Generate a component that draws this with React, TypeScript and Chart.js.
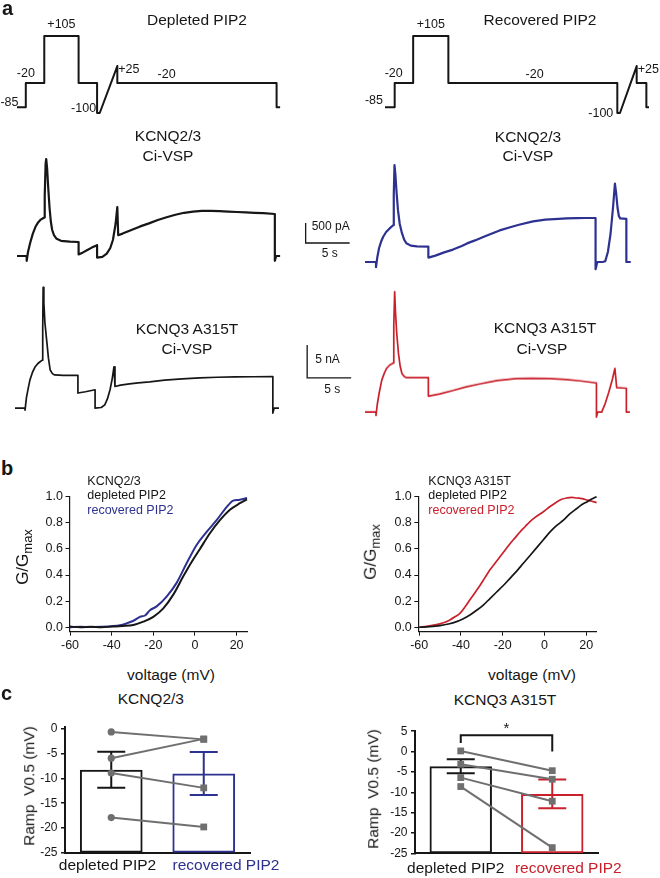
import React, { useEffect, useRef } from 'react';
import { Chart, registerables } from 'chart.js';

Chart.register(...registerables);

const FONT = "'Liberation Sans', Arial, Helvetica, sans-serif";
const INK = '#161616';
const BLUE = '#2d3190';
const RED = '#c9202b';
const GRAY = '#6f6f6f';

Chart.defaults.font.family = FONT;
Chart.defaults.color = INK;

// ---------------- panel a: voltage protocols (s, mV) ----------------
const protocolDepletedTime = [0, 1.0, 1.0, 3.1, 3.1, 7.0, 7.0, 9.1, 9.1, 9.4, 11.4, 11.4, 29.5, 29.5, 29.9];
const protocolDepletedVoltage = [-85, -85, -20, -20, 105, 105, -20, -20, -100, -100, 25, -20, -20, -85, -85];
const protocolRecoveredTime = [0, 1.1, 1.1, 3.2, 3.2, 7.2, 7.2, 26.4, 26.4, 26.7, 28.6, 28.6, 29.7, 29.7, 30.0];
const protocolRecoveredVoltage = [-85, -85, -20, -20, 105, 105, -20, -20, -100, -100, 25, -20, -20, -85, -85];

// ---------------- panel a: current traces ([s, pA] and [s, nA]) ----------------
const kcnq23DepletedTrace: [number, number][] = [
  [0, 0], [1.1, 0], [1.1, -120], [1.25, 100], [1.5, 330], [1.8, 560], [2.1, 730], [2.4, 840], [2.7, 910], [3.0, 950], [3.1, 960],
  [3.15, 1500], [3.25, 2300], [3.32, 2425], [3.42, 2200], [3.55, 1700], [3.7, 1200], [3.85, 850], [4.0, 650], [4.2, 520], [4.5, 430], [5.0, 380], [6.0, 360], [7.0, 350],
  [7.0, 40], [7.5, 90], [8.0, 150], [8.5, 210], [9.1, 270],
  [9.1, -40], [9.7, -20], [10.2, 60], [10.6, 200], [10.9, 400], [11.2, 800], [11.4, 1225], [11.45, 1225], [11.5, 520],
  [12, 560], [13, 650], [14, 740], [15, 815], [16, 900], [17, 970], [18, 1030], [19, 1080], [20, 1110], [21, 1130], [22, 1130],
  [23, 1120], [24, 1110], [25, 1100], [26, 1090], [27, 1080], [28, 1070], [29.3, 1050],
  [29.3, -120], [29.45, 0], [29.9, 0],
];
const kcnq23RecoveredTrace: [number, number][] = [
  [0, 0], [1.25, 0], [1.25, -130], [1.4, 120], [1.6, 350], [1.85, 520], [2.05, 625], [2.4, 750], [2.8, 840], [3.2, 920],
  [3.27, 1700], [3.35, 2420], [3.45, 2200], [3.6, 1700], [3.75, 1290], [3.95, 950], [4.2, 720], [4.45, 560], [4.7, 470], [5.2, 410], [5.9, 390], [7.2, 385],
  [7.2, 110], [8, 160], [9, 240], [10, 310], [11, 400], [11.6, 465], [12.5, 540], [13.5, 630], [14.5, 720], [15.3, 790],
  [16.5, 870], [17.5, 930], [19.1, 1015], [20.5, 1060], [22, 1080], [22.9, 1090], [24, 1095], [25, 1100], [26.2, 1100],
  [26.2, -180], [26.4, 0], [27.0, 0], [27.3, 20], [27.6, 250], [27.9, 700], [28.2, 1400], [28.4, 1960], [28.55, 1700],
  [28.7, 1350], [28.85, 1150], [29.0, 1090], [29.7, 1080], [29.7, 0], [30.2, 0],
];
const a315tDepletedTrace: [number, number][] = [
  [0, 0], [1.14, 0], [1.14, -0.3], [1.3, 1.6], [1.5, 3.0], [1.7, 4.3], [2.0, 5.5], [2.3, 6.3], [2.6, 6.8], [2.85, 7.06], [3.1, 7.3],
  [3.15, 12], [3.2, 18.4], [3.28, 16], [3.4, 13], [3.6, 10.3], [3.8, 7.6], [4.0, 5.8], [4.25, 5.25], [4.5, 5.05], [5.5, 5.0], [7.15, 5.0],
  [7.15, 2.3], [8, 2.5], [9.1, 2.8],
  [9.1, 0], [9.8, 0.1], [10.2, 0.5], [10.5, 1.4], [10.8, 2.8], [11.05, 4.5], [11.25, 6.3], [11.36, 3.3],
  [12, 3.5], [13, 3.7], [14, 3.85], [15.3, 4.0], [17, 4.25], [19, 4.45], [21, 4.6], [23, 4.7], [25, 4.75], [27, 4.78], [29.3, 4.8],
  [29.3, -0.75], [29.45, 0], [30, 0],
];
const a315tRecoveredTrace: [number, number][] = [
  [0, 0], [1.25, 0], [1.25, -0.5], [1.4, 1.2], [1.6, 2.8], [1.9, 4.8], [2.2, 5.9], [2.45, 6.6], [2.8, 7.1], [3.2, 7.4],
  [3.27, 13], [3.37, 18.2], [3.45, 15.5], [3.6, 12], [3.8, 8.9], [4.0, 6.9], [4.2, 5.8], [4.45, 5.4], [4.7, 5.2], [7.2, 5.2],
  [7.2, 2.4], [8.5, 2.75], [10, 3.25], [11.5, 3.8], [13, 4.25], [15, 4.75], [17.2, 5.05], [19, 5.1], [21, 5.05], [22.9, 4.9], [24.5, 4.7], [26.3, 4.4],
  [26.3, -0.75], [26.45, 0], [26.9, 0], [27.3, 1.3], [27.7, 3.0], [28.1, 4.9], [28.4, 6.6], [28.6, 3.7], [29.7, 3.6], [29.7, 0], [30.1, 0],
];

// ---------------- panel b: G/Gmax vs voltage ([mV, G/Gmax]) ----------------
const kcnq23DepletedGV: [number, number][] = [
  [-60, 0.005], [-55, 0.0], [-50, 0.003], [-45, 0.0], [-40, 0.005], [-35, 0.01], [-29.6, 0.018], [-24.8, 0.043], [-20, 0.08],
  [-15.2, 0.145], [-10.4, 0.25], [-5.6, 0.39], [-1.6, 0.5], [2.4, 0.6], [7.2, 0.72], [12, 0.82], [16.8, 0.9], [21.6, 0.95], [25, 0.98],
];
const kcnq23RecoveredGV: [number, number][] = [
  [-60, 0.0], [-55, 0.003], [-50, 0.002], [-45, 0.004], [-40, 0.008], [-36, 0.015], [-32.8, 0.03], [-29.5, 0.05], [-26.4, 0.08],
  [-24, 0.09], [-21.6, 0.13], [-18.4, 0.16], [-13.6, 0.235], [-8.8, 0.34], [-4, 0.49], [0.8, 0.63], [5.6, 0.73], [10.4, 0.82],
  [15.2, 0.92], [18.4, 0.97], [21, 0.975], [25, 0.99],
];
const a315tDepletedGV: [number, number][] = [
  [-60, 0], [-55, 0.005], [-50.1, 0.013], [-46, 0.025], [-42.1, 0.043], [-38.9, 0.066], [-35.7, 0.094], [-32.5, 0.13], [-29.3, 0.17],
  [-26.1, 0.22], [-22.9, 0.27], [-19.7, 0.32], [-16.5, 0.375], [-13.3, 0.43], [-10.1, 0.49], [-6.9, 0.55], [-3.7, 0.61], [-0.5, 0.67],
  [2.7, 0.73], [5.9, 0.78], [9.1, 0.82], [12.3, 0.87], [15.5, 0.91], [18, 0.94], [20.3, 0.96], [22.5, 0.98], [25, 1.0],
];
const a315tRecoveredGV: [number, number][] = [
  [-60, 0], [-55, 0.01], [-50.1, 0.026], [-47.7, 0.038], [-45.3, 0.056], [-42.9, 0.08], [-40.5, 0.107], [-38.1, 0.155], [-35.7, 0.21],
  [-33.3, 0.265], [-30.9, 0.32], [-28.5, 0.38], [-26.1, 0.44], [-23.7, 0.49], [-21.3, 0.54], [-18.9, 0.59], [-16.5, 0.64], [-14.1, 0.685],
  [-11.7, 0.73], [-9.3, 0.77], [-6.9, 0.81], [-3.7, 0.85], [-0.5, 0.885], [2.7, 0.925], [5.9, 0.96], [8.3, 0.98], [10.7, 0.99],
  [13, 0.995], [15.5, 0.99], [18, 0.985], [20.3, 0.975], [22.7, 0.965], [25, 0.955],
];
const gvXTicks = [-60, -40, -20, 0, 20];
const gvYTicks = [0, 0.2, 0.4, 0.6, 0.8, 1.0];

// ---------------- panel c: ramp V0.5 ----------------
const rampCategories = ['depleted PIP2', 'recovered PIP2'];
const kcnq23Means = [-8.25, -9.0];
const kcnq23Sems = [3.65, 4.35];
const kcnq23DepletedCells = [-0.6, -5.9, -8.9, -17.9];
const kcnq23RecoveredCells = [-2.1, -2.0, -11.9, -19.8];
const kcnq23YTicks = [-25, -20, -15, -10, -5, 0];
const a315tMeans = [-3.6, -10.4];
const a315tSems = [1.72, 3.55];
const a315tDepletedCells = [0.15, -3.1, -6.4, -8.6];
const a315tRecoveredCells = [-4.7, -6.8, -12.2, -23.6];
const a315tYTicks = [-25, -20, -15, -10, -5, 0, 5];
const a315tSignificance = { level: 4, leftEnd: 2.1, rightEnd: 0, mark: '*' };

type Pad = { left: number; top: number; right: number; bottom: number };
type Label = { text: string; x: number; y: number; dx: number; dy: number; align: CanvasTextAlign };

function ChartCanvas({ left, top, width, height, build }: { left: number; top: number; width: number; height: number; build: () => any }) {
  const ref = useRef<HTMLCanvasElement | null>(null);
  useEffect(() => {
    if (!ref.current) return;
    const chart = new Chart(ref.current, build());
    return () => chart.destroy();
  }, []);
  return <canvas ref={ref} width={width} height={height} style={{ position: 'absolute', left, top, width, height }} />;
}

function pointLabels(labels: Label[]) {
  return {
    id: 'pointLabels',
    afterDatasetsDraw(chart: any) {
      const { ctx, scales } = chart;
      ctx.save();
      ctx.font = `12.5px ${FONT}`;
      ctx.fillStyle = INK;
      ctx.textBaseline = 'middle';
      for (const l of labels) {
        ctx.textAlign = l.align;
        ctx.fillText(l.text, scales.x.getPixelForValue(l.x) + l.dx, scales.y.getPixelForValue(l.y) + l.dy);
      }
      ctx.restore();
    },
  };
}

function scaleBar(t0: number, v0: number, dt: number, dv: number, vLabel: string, hLabel: string, vdx: number, vdy: number, hdx: number, hdy: number) {
  return {
    id: 'scaleBar',
    afterDatasetsDraw(chart: any) {
      const { ctx, scales: { x, y } } = chart;
      const X0 = x.getPixelForValue(t0), X1 = x.getPixelForValue(t0 + dt);
      const Y0 = y.getPixelForValue(v0), Y1 = y.getPixelForValue(v0 + dv);
      ctx.save();
      ctx.strokeStyle = INK;
      ctx.lineWidth = 1.3;
      ctx.beginPath();
      ctx.moveTo(X0, Y1);
      ctx.lineTo(X0, Y0);
      ctx.lineTo(X1, Y0);
      ctx.stroke();
      ctx.font = `12px ${FONT}`;
      ctx.fillStyle = INK;
      ctx.textBaseline = 'middle';
      ctx.textAlign = 'left';
      ctx.fillText(vLabel, X0 + vdx, Y1 + vdy);
      ctx.textAlign = 'center';
      ctx.fillText(hLabel, (X0 + X1) / 2 + hdx, Y0 + hdy);
      ctx.restore();
    },
  };
}

function TraceChart(props: {
  areaLeft: number; areaTop: number; areaWidth: number; areaHeight: number; pad: Pad;
  xMax: number; yMin: number; yMax: number;
  series: { points: { x: number; y: number }[]; color: string; width: number }[];
  plugins?: any[];
}) {
  const { areaLeft, areaTop, areaWidth, areaHeight, pad, xMax, yMin, yMax, series, plugins = [] } = props;
  return (
    <ChartCanvas
      left={areaLeft - pad.left}
      top={areaTop - pad.top}
      width={areaWidth + pad.left + pad.right}
      height={areaHeight + pad.top + pad.bottom}
      build={() => ({
        type: 'line',
        data: {
          datasets: series.map((s) => ({
            data: s.points, borderColor: s.color, borderWidth: s.width, pointRadius: 0, tension: 0,
            clip: false, borderJoinStyle: 'round', borderCapStyle: 'butt',
          })),
        },
        options: {
          animation: false, responsive: false, events: [],
          layout: { padding: pad },
          plugins: { legend: { display: false }, tooltip: { enabled: false } },
          scales: {
            x: { type: 'linear', display: false, min: 0, max: xMax },
            y: { type: 'linear', display: false, min: yMin, max: yMax },
          },
        },
        plugins,
      })}
    />
  );
}

const zip = (a: number[], b: number[]) => a.map((x, i) => ({ x, y: b[i] }));
const pairs = (p: [number, number][]) => p.map(([x, y]) => ({ x, y }));

function GVChart({ left, yAxisWidth, padRight, xMin, series }: { left: number; yAxisWidth: number; padRight: number; xMin: number; series: { points: [number, number][]; color: string; width: number }[] }) {
  return (
    <ChartCanvas
      left={left} top={485} width={260} height={175}
      build={() => ({
        type: 'line',
        data: {
          datasets: series.map((s) => ({
            data: pairs(s.points), borderColor: s.color, borderWidth: s.width, pointRadius: 0,
            cubicInterpolationMode: 'monotone', clip: false,
          })),
        },
        options: {
          animation: false, responsive: false, events: [],
          layout: { padding: { left: 0, top: 11.7, right: padRight, bottom: 0 } },
          plugins: { legend: { display: false }, tooltip: { enabled: false } },
          scales: {
            x: {
              type: 'linear', min: xMin, max: 25,
              afterBuildTicks: (s: any) => { s.ticks = gvXTicks.map((v) => ({ value: v })); },
              ticks: { callback: (v: any) => String(v), font: { size: 12.5 }, color: INK, padding: 2, maxRotation: 0, autoSkip: false },
              grid: { drawOnChartArea: false, color: INK, tickLength: 4, lineWidth: 1 },
              border: { color: INK, width: 1.2 },
              afterFit: (s: any) => { s.height = 28.3; },
            },
            y: {
              type: 'linear', min: -0.034, max: 1.0,
              afterBuildTicks: (s: any) => { s.ticks = gvYTicks.map((v) => ({ value: v })); },
              ticks: { callback: (v: any) => Number(v).toFixed(1), font: { size: 12.5 }, color: INK, padding: 2.5, autoSkip: false },
              grid: { drawOnChartArea: false, color: INK, tickLength: 4, lineWidth: 1 },
              border: { color: INK, width: 1.2 },
              afterFit: (s: any) => { s.width = yAxisWidth; },
            },
          },
        },
      })}
    />
  );
}

function RampChart(props: {
  left: number; width: number; yAxisWidth: number; padTop: number; padRight: number; xAxisHeight: number;
  yMax: number; yTicks: number[]; means: number[]; sems: number[]; depleted: number[]; recovered: number[];
  barColors: string[]; barPercentage: number; depletedShape: string; bracket?: { level: number; leftEnd: number; rightEnd: number; mark: string };
}) {
  const { left, width, yAxisWidth, padTop, padRight, xAxisHeight, yMax, yTicks, means, sems, depleted, recovered, barColors, barPercentage, depletedShape, bracket } = props;
  const errorBars = {
    id: 'errorBars',
    afterDatasetDraw(chart: any, args: any) {
      if (args.index !== 0) return;
      const { ctx, scales: { y } } = chart;
      const meta = chart.getDatasetMeta(0);
      ctx.save();
      ctx.lineWidth = 2;
      meta.data.forEach((bar: any, i: number) => {
        const x = bar.x;
        const yt = y.getPixelForValue(means[i] + sems[i]);
        const yb = y.getPixelForValue(means[i] - sems[i]);
        ctx.strokeStyle = barColors[i];
        ctx.beginPath();
        ctx.moveTo(x, yt); ctx.lineTo(x, yb);
        ctx.moveTo(x - 14, yt); ctx.lineTo(x + 14, yt);
        ctx.moveTo(x - 14, yb); ctx.lineTo(x + 14, yb);
        ctx.stroke();
      });
      ctx.restore();
    },
    afterDatasetsDraw(chart: any) {
      if (!bracket) return;
      const { ctx, scales: { y } } = chart;
      const meta = chart.getDatasetMeta(0);
      const x0 = meta.data[0].x, x1 = meta.data[1].x;
      const yl = y.getPixelForValue(bracket.level);
      ctx.save();
      ctx.strokeStyle = INK;
      ctx.lineWidth = 2;
      ctx.beginPath();
      ctx.moveTo(x0, y.getPixelForValue(bracket.leftEnd));
      ctx.lineTo(x0, yl);
      ctx.lineTo(x1, yl);
      ctx.lineTo(x1, y.getPixelForValue(bracket.rightEnd));
      ctx.stroke();
      ctx.fillStyle = INK;
      ctx.font = `15px ${FONT}`;
      ctx.textAlign = 'center';
      ctx.textBaseline = 'middle';
      ctx.fillText(bracket.mark, (x0 + x1) / 2, yl - 6);
      ctx.restore();
    },
  };
  const cellSets = depleted.map((d, i) => ({
    type: 'line', data: [d, recovered[i]], borderColor: GRAY, borderWidth: 2,
    pointStyle: [depletedShape, 'rect'], pointRadius: [depletedShape === 'circle' ? 3.6 : 4.8, 4.8],
    pointBackgroundColor: GRAY, pointBorderColor: GRAY, pointBorderWidth: 0, order: 1, clip: false,
  }));
  return (
    <ChartCanvas
      left={left} top={712} width={width} height={166}
      build={() => ({
        type: 'bar',
        data: {
          labels: rampCategories,
          datasets: [
            {
              type: 'bar', data: means.map((m) => [-25, m]), backgroundColor: 'rgba(255,255,255,0)',
              borderColor: barColors, borderWidth: 2, borderSkipped: false,
              barPercentage, categoryPercentage: 1, order: 2,
            },
            ...cellSets,
          ],
        },
        options: {
          animation: false, responsive: false, events: [],
          layout: { padding: { left: 0, top: padTop, right: padRight, bottom: 0 } },
          plugins: { legend: { display: false }, tooltip: { enabled: false } },
          scales: {
            x: {
              type: 'category', offset: true,
              ticks: { display: false },
              grid: { display: true, drawOnChartArea: false, drawTicks: false },
              border: { color: INK, width: 2 },
              afterFit: (s: any) => { s.height = xAxisHeight; },
            },
            y: {
              type: 'linear', min: -25, max: yMax,
              afterBuildTicks: (s: any) => { s.ticks = yTicks.map((v) => ({ value: v })); },
              ticks: { callback: (v: any) => String(v), font: { size: 12 }, color: INK, padding: 3.5, autoSkip: false },
              grid: { drawOnChartArea: false, color: INK, tickLength: 4, lineWidth: 1.5 },
              border: { color: INK, width: 2 },
              afterFit: (s: any) => { s.width = yAxisWidth; },
            },
          },
        },
        plugins: [errorBars],
      })}
    />
  );
}

function T({ x, y, size, children, color = INK, bold = false, align = 'center', rotate = 0 }: {
  x: number; y: number; size: number; children: React.ReactNode; color?: string; bold?: boolean; align?: 'center' | 'left' | 'right'; rotate?: number;
}) {
  const tx = align === 'center' ? '-50%' : align === 'left' ? '0%' : '-100%';
  return (
    <div
      style={{
        position: 'absolute', left: x, top: y,
        transform: `translate(${tx}, -50%)${rotate ? ` rotate(${rotate}deg)` : ''}`,
        font: `${bold ? 'bold ' : ''}${size}px ${FONT}`, lineHeight: `${size}px`, whiteSpace: 'pre', color,
      }}
    >
      {children}
    </div>
  );
}

const protocolLabelsLeft: Label[] = [
  { text: '-85', x: 0, y: -85, dx: 1.5, dy: -5, align: 'right' },
  { text: '-20', x: 1.0, y: -20, dx: 0, dy: -9, align: 'center' },
  { text: '+105', x: 5.05, y: 105, dx: 0, dy: -11, align: 'center' },
  { text: '-100', x: 9.1, y: -100, dx: -1, dy: -4, align: 'right' },
  { text: '+25', x: 11.4, y: 25, dx: 1, dy: 3, align: 'left' },
  { text: '-20', x: 17.0, y: -20, dx: 0, dy: -8, align: 'center' },
];
const protocolLabelsRight: Label[] = [
  { text: '-85', x: 0, y: -85, dx: -2, dy: -7, align: 'right' },
  { text: '-20', x: 1.1, y: -20, dx: -1, dy: -9, align: 'center' },
  { text: '+105', x: 5.2, y: 105, dx: 0, dy: -11, align: 'center' },
  { text: '-20', x: 17.0, y: -20, dx: 0, dy: -8, align: 'center' },
  { text: '-100', x: 26.4, y: -100, dx: -4, dy: 1, align: 'right' },
  { text: '+25', x: 28.6, y: 25, dx: 1, dy: 3, align: 'left' },
];

export default function App() {
  const GG = (
    <>G/G<sub style={{ fontSize: 13, verticalAlign: 'sub' }}>max</sub></>
  );
  return (
    <div style={{ position: 'absolute', left: 0, top: 0, width: 660, height: 878, background: '#fff', overflow: 'hidden', fontFamily: FONT, color: INK }}>
      {/* ---------- panel a ---------- */}
      <TraceChart areaLeft={17} areaTop={36} areaWidth={264} areaHeight={77.1} pad={{ left: 17, top: 30, right: 40, bottom: 12 }}
        xMax={30} yMin={-100} yMax={105}
        series={[{ points: zip(protocolDepletedTime, protocolDepletedVoltage), color: INK, width: 2 }]}
        plugins={[pointLabels(protocolLabelsLeft)]} />
      <TraceChart areaLeft={385} areaTop={36} areaWidth={264} areaHeight={77.1} pad={{ left: 25, top: 30, right: 11, bottom: 12 }}
        xMax={30} yMin={-100} yMax={105}
        series={[{ points: zip(protocolRecoveredTime, protocolRecoveredVoltage), color: INK, width: 2 }]}
        plugins={[pointLabels(protocolLabelsRight)]} />

      <TraceChart areaLeft={17} areaTop={150} areaWidth={264} areaHeight={120} pad={{ left: 10, top: 10, right: 80, bottom: 10 }}
        xMax={30} yMin={-350} yMax={2650}
        series={[{ points: pairs(kcnq23DepletedTrace), color: INK, width: 2.2 }]}
        plugins={[scaleBar(32.8, 325, 5, 500, '500 pA', '5 s', 6, 4, 2, 11)]} />
      <TraceChart areaLeft={365} areaTop={155.7} areaWidth={264} areaHeight={120} pad={{ left: 10, top: 10, right: 20, bottom: 10 }}
        xMax={30} yMin={-350} yMax={2650}
        series={[{ points: pairs(kcnq23RecoveredTrace), color: BLUE, width: 2.2 }]} />

      <TraceChart areaLeft={15} areaTop={279.6} areaWidth={264} areaHeight={138.6} pad={{ left: 10, top: 10, right: 80, bottom: 10 }}
        xMax={30} yMin={-1.5} yMax={19.5}
        series={[{ points: pairs(a315tDepletedTrace), color: INK, width: 1.7 }]}
        plugins={[scaleBar(33.2, 4.6, 5, 5, '5 nA', '5 s', 8, 15, 3, 12)]} />
      <TraceChart areaLeft={365} areaTop={283} areaWidth={264} areaHeight={138.6} pad={{ left: 10, top: 10, right: 20, bottom: 10 }}
        xMax={30} yMin={-1.5} yMax={19.5}
        series={[{ points: pairs(a315tRecoveredTrace), color: RED, width: 1.7 }]} />

      <T x={7.5} y={8.3} size={20} bold>a</T>
      <T x={197} y={20} size={15.5}>Depleted PIP2</T>
      <T x={540} y={20} size={15.5}>Recovered PIP2</T>
      <T x={168} y={136} size={15.5}>KCNQ2/3</T>
      <T x={168} y={155.5} size={15.5}>Ci-VSP</T>
      <T x={528} y={137} size={15.5}>KCNQ2/3</T>
      <T x={528} y={156} size={15.5}>Ci-VSP</T>
      <T x={187} y={329} size={15.5}>KCNQ3 A315T</T>
      <T x={187} y={348.7} size={15.5}>Ci-VSP</T>
      <T x={545} y={327.5} size={15.5}>KCNQ3 A315T</T>
      <T x={542} y={349} size={15.5}>Ci-VSP</T>

      {/* ---------- panel b ---------- */}
      <GVChart left={0} yAxisWidth={69.5} padRight={13} xMin={-60.25}
        series={[
          { points: kcnq23DepletedGV, color: INK, width: 2 },
          { points: kcnq23RecoveredGV, color: BLUE, width: 2 },
        ]} />
      <GVChart left={350} yAxisWidth={68.3} padRight={13.4} xMin={-60.45}
        series={[
          { points: a315tDepletedGV, color: INK, width: 1.7 },
          { points: a315tRecoveredGV, color: RED, width: 1.7 },
        ]} />
      <T x={7} y={468} size={20} bold>b</T>
      <T x={87.3} y={481.3} size={12.5} align="left">KCNQ2/3</T>
      <T x={87.3} y={495} size={12.5} align="left">depleted PIP2</T>
      <T x={87.3} y={510} size={12.5} align="left" color={BLUE}>recovered PIP2</T>
      <T x={428.3} y={481.3} size={12.5} align="left">KCNQ3 A315T</T>
      <T x={428.3} y={495} size={12.5} align="left">depleted PIP2</T>
      <T x={428.3} y={510} size={12.5} align="left" color={RED}>recovered PIP2</T>
      <T x={25} y={557} size={17} rotate={-90}>{GG}</T>
      <T x={372.5} y={552} size={17} rotate={-90}>{GG}</T>
      <T x={171} y={675} size={15.5}>voltage (mV)</T>
      <T x={532} y={675} size={15.5}>voltage (mV)</T>

      {/* ---------- panel c ---------- */}
      <RampChart left={0} width={262} yAxisWidth={65} padTop={15} padRight={12} xAxisHeight={25.3}
        yMax={0.4} yTicks={kcnq23YTicks} means={kcnq23Means} sems={kcnq23Sems}
        depleted={kcnq23DepletedCells} recovered={kcnq23RecoveredCells}
        barColors={[INK, BLUE]} barPercentage={0.678} depletedShape="circle" />
      <RampChart left={340} width={270} yAxisWidth={75} padTop={18.6} padRight={12} xAxisHeight={24.7}
        yMax={5.15} yTicks={a315tYTicks} means={a315tMeans} sems={a315tSems}
        depleted={a315tDepletedCells} recovered={a315tRecoveredCells}
        barColors={[INK, RED]} barPercentage={0.682} depletedShape="rect" bracket={a315tSignificance} />
      <T x={6.5} y={693} size={20} bold>c</T>
      <T x={150.8} y={698.7} size={15.5}>KCNQ2/3</T>
      <T x={505} y={700} size={15.5}>KCNQ3 A315T</T>
      <T x={29} y={786} size={15.5} rotate={-90}>Ramp  V0.5 (mV)</T>
      <T x={373} y={788.5} size={15.5} rotate={-90}>Ramp  V0.5 (mV)</T>
      <T x={107.5} y={864.5} size={15.5}>{rampCategories[0]}</T>
      <T x={226} y={864.5} size={15.5} color={BLUE}>{rampCategories[1]}</T>
      <T x={455.8} y={867.8} size={15.5}>{rampCategories[0]}</T>
      <T x={568.3} y={867.8} size={15.5} color={RED}>{rampCategories[1]}</T>
    </div>
  );
}
